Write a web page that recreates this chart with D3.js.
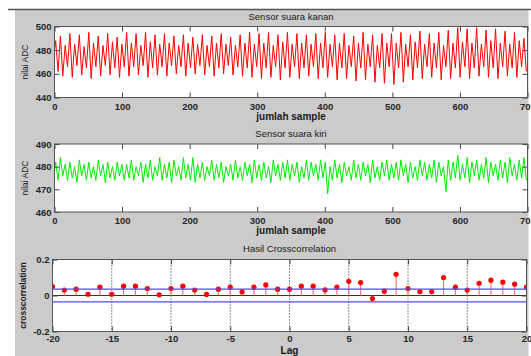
<!DOCTYPE html>
<html>
<head>
<meta charset="utf-8">
<script src="https://cdn.jsdelivr.net/npm/d3@7"></script>
<style>
html,body{margin:0;padding:0;background:#fff;}
svg{display:block;}
text{font-family:"Liberation Sans",Arial,sans-serif;}
</style>
</head>
<body>
<script>
// ---------- DATA ----------
const kananTitle = "Sensor suara kanan";
const kiriTitle = "Sensor suara kiri";
const ccTitle = "Hasil Crosscorrelation";
const sampleTicks = [0,100,200,300,400,500,600,700];
const kananYTicks = [440,460,480,500];
const kiriYTicks = [460,470,480,490];
const lagTicks = [-20,-15,-10,-5,0,5,10,15,20];
const ccYTicks = [-0.2,0,0.2];

// right sensor: start value, then per-cycle peaks and troughs
const kananStart = 480;
const kananPeaks = [
 488,492,484,494,485,493,483,495,486,492,484,494,487,491,485,
 495,486,494,484,495,487,493,485,494,486,492,484,493,486,
 491,485,493,484,492,486,494,485,491,484,493,486,495,485,
 494,486,495,484,493,487,495,485,494,486,493,485,494,486,
 495,485,493,486,494,484,492,486,495,485,493,484,494,486,
 494,486,495,485,493,487,496,485,494,486,495,484,497,486,
 499,487,498,486,499,485,497,488,498,486,496,485,495,488,490];
const kananTroughs = [
 462,458,466,457,467,459,465,456,466,458,467,459,465,457,466,
 458,466,459,467,457,465,459,466,458,467,460,466,458,465,
 460,467,459,466,458,465,460,467,459,466,458,465,457,466,
 456,465,457,466,455,465,457,466,456,465,458,466,456,465,
 457,466,455,465,456,466,454,465,455,466,453,465,452,466,
 451,465,453,466,455,465,456,466,457,465,455,466,456,465,
 457,466,456,465,458,466,457,465,456,466,458,465,457,466,462];

// left sensor
const kiriStart = 478;
const kiriPeaks = [
 482,484,481,482,480,483,481,482,480,483,481,482,480,482,481,
 481,483,480,482,481,483,480,484,481,482,483,480,484,481,
 484,481,482,480,483,481,482,480,481,483,480,482,481,483,
 481,482,480,483,481,482,483,481,482,480,483,482,481,483,
 482,480,483,481,482,480,483,481,482,481,483,480,482,483,
 481,482,483,481,482,480,483,482,481,483,482,480,483,482,
 485,481,484,482,483,481,484,482,481,483,482,484,481,483,484];
const kiriTroughs = [
 474,476,474,475,473,476,474,475,474,476,473,475,474,476,474,
 475,474,476,473,475,474,476,474,475,473,476,474,475,474,
 473,475,474,476,474,475,473,476,474,475,474,476,473,475,
 474,475,473,476,474,475,474,476,473,475,474,476,474,475,
 468,474,475,473,476,474,475,474,476,473,475,474,476,474,
 475,474,476,473,475,474,476,474,475,473,476,469,474,475,
 474,475,473,476,474,475,473,476,474,475,473,476,474,475,474];

// crosscorrelation at lags -20..20
const lags = d3.range(-20, 21);
const ccValues = [
 0.050,0.030,0.035,0.007,0.046,0.007,0.052,0.052,0.039,0.004,
 0.039,0.052,0.030,0.006,0.035,0.046,0.020,0.046,0.059,0.035,
 0.035,0.052,0.052,0.031,0.046,0.079,0.072,-0.017,0.024,0.118,
 0.039,0.022,0.022,0.100,0.046,0.030,0.068,0.085,0.074,0.063,0.046];
const ccBound = 0.035;

// ---------- DRAW ----------
const W = 531, H = 356;
const svg = d3.select("body").append("svg").attr("width", W).attr("height", H);
const FONT = '"Liberation Sans",Arial,sans-serif';

svg.append("rect").attr("x",0).attr("y",0).attr("width",W).attr("height",H).attr("fill","#fff");
svg.append("rect").attr("x",15).attr("y",10).attr("width",513.5).attr("height",H-10).attr("fill","#cbcbcb");
svg.append("line").attr("x1",8).attr("x2",W).attr("y1",9.5).attr("y2",9.5).attr("stroke","#555").attr("stroke-width",1.5);

function buildSeries(start, peaks, troughs, step) {
  const pts = [[0, start]];
  for (let i = 0; i < peaks.length; i++) {
    pts.push([step*(2*i)+step/2, peaks[i]]);
    pts.push([step*(2*i+1)+step/2, troughs[i]]);
  }
  return pts;
}

function panel(cfg) {
  const g = svg.append("g");
  const x = d3.scaleLinear().domain(cfg.xDomain).range([cfg.left, cfg.right]);
  const y = d3.scaleLinear().domain(cfg.yDomain).range([cfg.bottom, cfg.top]);
  g.append("rect").attr("x",cfg.left).attr("y",cfg.top)
    .attr("width",cfg.right-cfg.left).attr("height",cfg.bottom-cfg.top).attr("fill","#fff");
  const clipId = "clip" + cfg.id;
  svg.append("clipPath").attr("id", clipId).append("rect")
    .attr("x",cfg.left).attr("y",cfg.top).attr("width",cfg.right-cfg.left).attr("height",cfg.bottom-cfg.top);
  const inner = g.append("g").attr("clip-path", `url(#${clipId})`);
  cfg.draw(inner, x, y);

  const fmt = d => String(d);
  const styleAxis = (sel) => {
    sel.select(".domain").remove();
    sel.selectAll(".tick line").attr("stroke","#444");
    sel.selectAll("text").attr("font-family",FONT).attr("font-size","9.5px")
      .attr("font-weight","bold").attr("fill","#262626");
  };
  g.append("g").attr("transform",`translate(0,${cfg.bottom})`)
    .call(d3.axisBottom(x).tickValues(cfg.xTicks).tickFormat(fmt).tickSize(-5).tickPadding(cfg.xPad))
    .call(styleAxis);
  g.append("g").attr("transform",`translate(0,${cfg.top})`)
    .call(d3.axisTop(x).tickValues(cfg.xTicks).tickFormat("").tickSize(-5))
    .call(styleAxis);
  g.append("g").attr("transform",`translate(${cfg.left},0)`)
    .call(d3.axisLeft(y).tickValues(cfg.yTicks).tickFormat(fmt).tickSize(-5).tickPadding(3))
    .call(styleAxis);
  g.append("g").attr("transform",`translate(${cfg.right},0)`)
    .call(d3.axisRight(y).tickValues(cfg.yTicks).tickFormat("").tickSize(-5))
    .call(styleAxis);
  g.selectAll("g.tick").attr("font-family", FONT);
  g.append("rect").attr("x",cfg.left).attr("y",cfg.top)
    .attr("width",cfg.right-cfg.left).attr("height",cfg.bottom-cfg.top)
    .attr("fill","none").attr("stroke","#555").attr("stroke-width",1);

  const cx = (cfg.left+cfg.right)/2;
  g.append("text").attr("x",cx).attr("y",cfg.titleY).attr("text-anchor","middle")
    .attr("font-size","9.5px").attr("fill","#1a1a1a").text(cfg.title);
  g.append("text").attr("x",cx).attr("y",cfg.xLabelY).attr("text-anchor","middle")
    .attr("font-size","10px").attr("font-weight","bold").attr("fill","#1a1a1a").text(cfg.xLabel);
  const cy = (cfg.top+cfg.bottom)/2;
  g.append("text").attr("transform",`translate(${cfg.yLabelX},${cy}) rotate(-90)`)
    .attr("text-anchor","middle").attr("font-size",cfg.yLabelSize).attr("font-weight",cfg.yLabelWeight)
    .attr("fill","#1a1a1a").text(cfg.yLabel);
}

const kananPts = buildSeries(kananStart, kananPeaks, kananTroughs, 3.5);
const kiriPts = buildSeries(kiriStart, kiriPeaks, kiriTroughs, 3.5);

panel({
  id: 1, left: 54.5, right: 527.5, top: 26.5, bottom: 97.5,
  xDomain: [0,700], yDomain: [440,500], xTicks: sampleTicks, yTicks: kananYTicks, xPad: 5.5,
  title: kananTitle, titleY: 19.5, xLabel: "jumlah sample", xLabelY: 119.5,
  yLabel: "nilai ADC", yLabelX: 28, yLabelSize: "8.5px", yLabelWeight: "normal",
  draw: (g, x, y) => {
    g.append("path").datum(kananPts)
      .attr("d", d3.line().x(d => x(d[0])).y(d => y(d[1])))
      .attr("fill","none").attr("stroke","#ff0000").attr("stroke-width",1);
  }
});

panel({
  id: 2, left: 54.5, right: 527.5, top: 144, bottom: 212,
  xDomain: [0,700], yDomain: [460,490], xTicks: sampleTicks, yTicks: kiriYTicks, xPad: 5,
  title: kiriTitle, titleY: 136.5, xLabel: "jumlah sample", xLabelY: 234,
  yLabel: "nilai ADC", yLabelX: 28, yLabelSize: "8.5px", yLabelWeight: "normal",
  draw: (g, x, y) => {
    g.append("path").datum(kiriPts)
      .attr("d", d3.line().x(d => x(d[0])).y(d => y(d[1])))
      .attr("fill","none").attr("stroke","#00ee00").attr("stroke-width",1);
  }
});

panel({
  id: 3, left: 52.5, right: 526.5, top: 259.5, bottom: 331.5,
  xDomain: [-20,20], yDomain: [-0.2,0.2], xTicks: lagTicks, yTicks: ccYTicks, xPad: 3.75,
  title: ccTitle, titleY: 252, xLabel: "Lag", xLabelY: 354,
  yLabel: "crosscorrelation", yLabelX: 26, yLabelSize: "8.5px", yLabelWeight: "bold",
  draw: (g, x, y) => {
    g.selectAll("line.grid").data(lagTicks.slice(1,-1)).join("line").attr("class","grid")
      .attr("x1", d => x(d)).attr("x2", d => x(d)).attr("y1", y(0.2)).attr("y2", y(-0.2))
      .attr("stroke","#222").attr("stroke-width",1).attr("stroke-dasharray","1,2");
    g.append("line").attr("x1", x(-20)).attr("x2", x(20)).attr("y1", y(0)).attr("y2", y(0))
      .attr("stroke","#333").attr("stroke-width",1);
    g.selectAll("line.stem").data(lags).join("line").attr("class","stem")
      .attr("x1", d => x(d)).attr("x2", d => x(d))
      .attr("y1", y(0)).attr("y2", (d,i) => y(ccValues[i]))
      .attr("stroke","#ff6a6a").attr("stroke-width",1.1);
    g.selectAll("circle.mk").data(lags).join("circle").attr("class","mk")
      .attr("cx", d => x(d)).attr("cy", (d,i) => y(ccValues[i])).attr("r",2.6)
      .attr("fill","#ff0000");
    [ccBound, -ccBound].forEach(b => {
      g.append("line").attr("x1", x(-20)).attr("x2", x(20)).attr("y1", y(b)).attr("y2", y(b))
        .attr("stroke","#4d4dff").attr("stroke-width",1.3);
    });
  }
});
</script>
</body>
</html>
